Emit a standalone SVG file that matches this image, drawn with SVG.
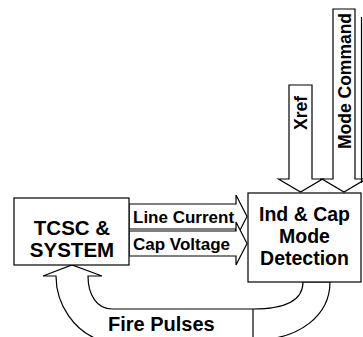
<svg xmlns="http://www.w3.org/2000/svg" width="363" height="337" viewBox="0 0 363 337">
<style>
.s{fill:#fff;stroke:#000;stroke-width:1.2}
.ln{fill:none;stroke:#000;stroke-width:1.2}
.t{font-family:"Liberation Sans",Arial,sans-serif;font-weight:bold;fill:#000}
.big{font-size:19.5px}
.sm{font-size:17px}
.v{font-size:17.5px}
</style>
<rect width="363" height="337" fill="#fff"/>
<g id="connectors">
<path id="a-line" class="s" d="M129,204 H236 V195 L247,216.5 L236,238 V229 H129 Z"/>
<path id="a-cap" class="s" d="M129,231 H236 V222 L247,243.5 L236,265 V256 H129 Z"/>
<path id="a-xref" class="s" d="M289,85 H312 V179 H322.5 L300.5,192 L278.5,179 H289 Z"/>
<path id="a-mode" class="s" d="M333,9 H355 V179 H366 L344,192 L322,179 H333 Z"/>
<line class="ln" x1="361.5" y1="17" x2="361.5" y2="183"/>
<path id="a-fire" class="s" d="M303,282 C303,300 285,309 253,309 H112 C97,309 88,295 88,276 H102 L72,265 L43,276 H56 C56,305 75,332 100,340 H253 V340 C300,340 330,315 330,282 Z"/>
<line class="ln" x1="253" y1="309" x2="253" y2="337"/>
</g>
<g id="tcsc">
<rect class="s" x="14" y="198" width="115" height="67"/>
<text class="t big" x="72" y="235" text-anchor="middle" style="font-size:20.5px">TCSC &amp;</text>
<text class="t big" x="72" y="257" text-anchor="middle" style="font-size:20.5px">SYSTEM</text>
</g>
<g id="ind">
<rect class="s" x="248" y="193" width="113" height="89"/>
<text class="t big" x="304.5" y="221" text-anchor="middle">Ind &amp; Cap</text>
<text class="t big" x="304.5" y="243" text-anchor="middle">Mode</text>
<text class="t big" x="304.5" y="265" text-anchor="middle">Detection</text>
</g>
<g id="labels">
<text class="t sm" x="133" y="222.5">Line Current</text>
<text class="t sm" x="133" y="249.5">Cap Voltage</text>
<text class="t v" x="0" y="0" transform="translate(306.5 113) rotate(-90)" text-anchor="middle">Xref</text>
<text class="t v" x="0" y="0" transform="translate(350.5 81) rotate(-90)" text-anchor="middle">Mode Command</text>
<text class="t big" x="108" y="331" style="font-size:20px">Fire Pulses</text>
</g>
</svg>
